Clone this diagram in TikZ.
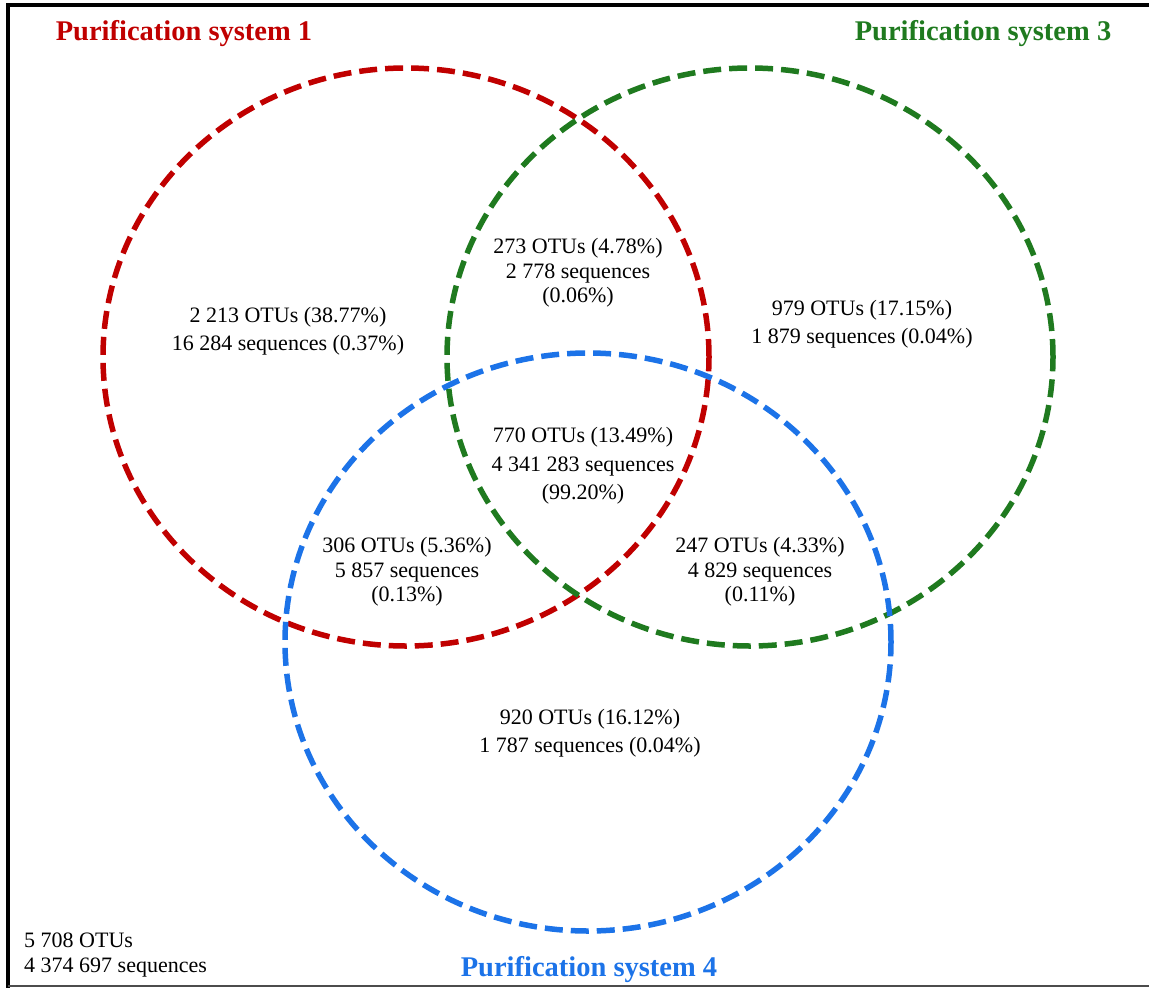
\documentclass[tikz,border=0pt]{standalone}
\usepackage{fontspec}
\setmainfont{Liberation Serif}
\usepackage{xcolor}
\usetikzlibrary{positioning}

\definecolor{setred}{RGB}{192,0,0}
\definecolor{setgreen}{RGB}{31,122,31}
\definecolor{setblue}{RGB}{28,115,232}

\begin{document}
\begin{tikzpicture}[
  x=1pt, y=-1pt,
  setline/.style={line width=5.5pt, dash pattern=on 18pt off 8pt},
  title/.style={font=\fontsize{28.5}{32}\selectfont\bfseries, inner sep=0pt},
  lbl/.style={font=\fontsize{22}{28.5}\selectfont, align=center, inner sep=0pt},
  lbltight/.style={lbl, font=\fontsize{22}{24.5}\selectfont}
]
\useasboundingbox (0,0) rectangle (1149,988);
% frame
\draw[line width=4pt] (1149,5) -- (8,5) -- (8,988);
\draw[line width=2pt, black!70] (8,986) -- (1149,986);

% the three sets
\draw[setline, setred]   (406,357) ellipse [x radius=303pt, y radius=289pt];
\draw[setline, setgreen] (750,357) ellipse [x radius=303pt, y radius=289pt];
\draw[setline, setblue]  (588,642) ellipse [x radius=303pt, y radius=289pt];

\node[title, setred]   (t1) at (184,34)  {Purification system 1};
\node[title, setgreen] (t3) at (983,34)  {Purification system 3};
\node[title, setblue]  (t4) at (589,970) {Purification system 4};

% counts
\node[lbl] (only1) at (288,331) {2 213 OTUs (38.77\%)\\16 284 sequences (0.37\%)};
\node[lbl] (only3) at (862,324) {979 OTUs (17.15\%)\\1 879 sequences (0.04\%)};
\node[lbl] (only4) at (590,733) {920 OTUs (16.12\%)\\1 787 sequences (0.04\%)};
\node[lbltight] (s13) at (578,273) {273 OTUs (4.78\%)\\2 778 sequences\\(0.06\%)};
\node[lbl] (s134) at (583,466) {770 OTUs (13.49\%)\\4 341 283 sequences\\(99.20\%)};
\node[lbltight] (s14) at (407,572) {306 OTUs (5.36\%)\\5 857 sequences\\(0.13\%)};
\node[lbltight] (s34) at (760,572) {247 OTUs (4.33\%)\\4 829 sequences\\(0.11\%)};
\node[lbltight, align=left, anchor=west] (total) at (24,955) {5 708 OTUs\\4 374 697 sequences};
\end{tikzpicture}
\end{document}
